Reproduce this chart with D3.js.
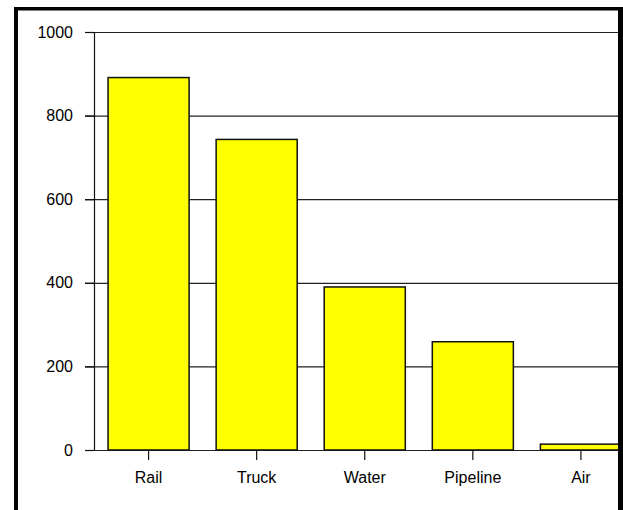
<!DOCTYPE html>
<html>
<head>
<meta charset="utf-8">
<script src="https://cdn.jsdelivr.net/npm/d3@7"></script>
<style>
  html, body { margin: 0; padding: 0; background: #fff; }
  svg { display: block; }
  .tick text { font-family: Arial, "Liberation Sans", sans-serif; font-size: 16px; fill: #000; }
</style>
</head>
<body>
<div id="chart"></div>
<script>
// data
const modes = ["Rail", "Truck", "Water", "Pipeline", "Air"];
const values = [891, 743, 390, 259, 14];
const yTicks = [0, 200, 400, 600, 800, 1000];

const width = 623;
const height = 510;

const svg = d3.select("#chart")
  .append("svg")
  .attr("width", width)
  .attr("height", height);

// plot edges (right side runs under the frame)
const plotLeft = 94, plotRight = 618, plotTop = 32, plotBottom = 450;

const x = d3.scaleBand()
  .domain(modes)
  .range([plotLeft, plotLeft + 5 * 108.3])
  .paddingInner(0.25)
  .paddingOuter(0.13);

const y = d3.scaleLinear()
  .domain([0, 1000])
  .range([plotBottom, plotTop]);

svg.append("defs").append("clipPath")
  .attr("id", "plotclip")
  .append("rect")
  .attr("x", 0).attr("y", 0)
  .attr("width", plotRight).attr("height", height);

// gridlines behind the bars
svg.append("g")
  .selectAll("line")
  .data(yTicks)
  .enter()
  .append("line")
  .attr("x1", plotLeft - 9)
  .attr("x2", plotRight)
  .attr("y1", (d) => y(d) + 0.5)
  .attr("y2", (d) => y(d) + 0.5)
  .attr("stroke", "#222")
  .attr("stroke-width", 1.2);

// bars
svg.append("g")
  .attr("clip-path", "url(#plotclip)")
  .selectAll("rect")
  .data(modes)
  .enter()
  .append("rect")
  .attr("x", (d) => x(d))
  .attr("y", (d, i) => y(values[i]))
  .attr("width", x.bandwidth())
  .attr("height", (d, i) => y(0) - y(values[i]))
  .attr("fill", "#ffff00")
  .attr("stroke", "#111")
  .attr("stroke-width", 1.5);

// y axis
const yAxis = svg.append("g")
  .attr("transform", `translate(${plotLeft},0)`)
  .call(d3.axisLeft(y).tickValues(yTicks).tickFormat(d3.format("d")).tickSize(9).tickPadding(12));
yAxis.select(".domain").remove();
yAxis.selectAll(".tick line").attr("stroke", "#111").attr("stroke-width", 1.2);

svg.append("line")
  .attr("x1", plotLeft + 0.5).attr("x2", plotLeft + 0.5)
  .attr("y1", plotTop).attr("y2", plotBottom + 0.5)
  .attr("stroke", "#111")
  .attr("stroke-width", 1.2);

// x axis
const xAxis = svg.append("g")
  .attr("transform", `translate(0,${plotBottom})`)
  .call(d3.axisBottom(x).tickSize(10).tickPadding(12));
xAxis.select(".domain").remove();
xAxis.selectAll(".tick line").attr("stroke", "#111").attr("stroke-width", 1.2);

// outer frame
svg.append("rect").attr("x", 14).attr("y", 7).attr("width", width - 14).attr("height", 3.5).attr("fill", "#000");
svg.append("rect").attr("x", 14).attr("y", 7).attr("width", 4).attr("height", height - 7).attr("fill", "#000");
svg.append("rect").attr("x", 618).attr("y", 7).attr("width", 5).attr("height", height - 7).attr("fill", "#000");
</script>
</body>
</html>
